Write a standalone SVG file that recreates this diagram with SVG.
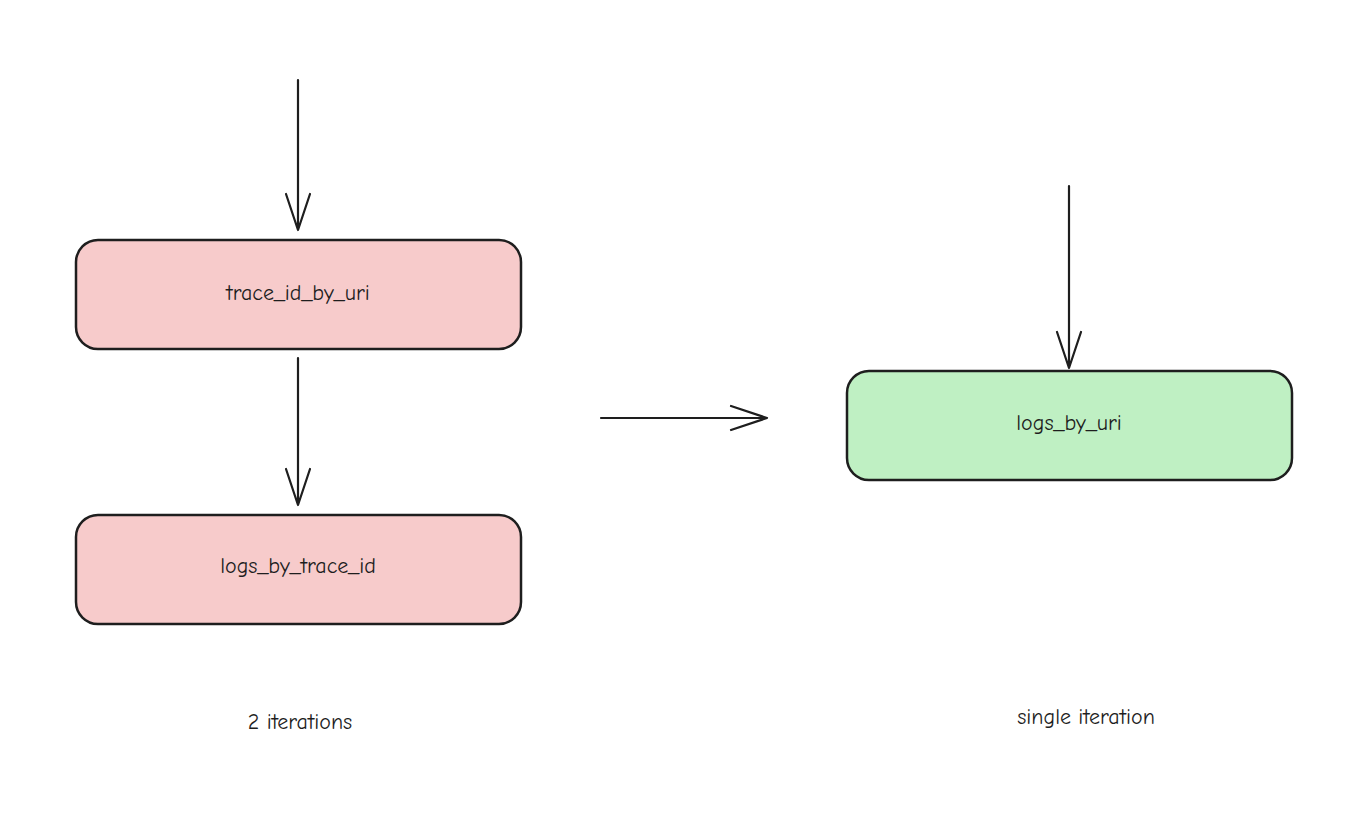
<svg xmlns="http://www.w3.org/2000/svg" width="1364" height="818" viewBox="0 0 1364 818">
<style>
.box{stroke:#1e1e1e;stroke-width:2.5}
.pink{fill:#f7cbcb}
.green{fill:#bff0c3}
text{font-family:"Comic Neue","Liberation Sans",sans-serif;font-size:22px;fill:#1e1e1e;text-anchor:middle;dominant-baseline:middle}
.c{stroke:#1e1e1e;stroke-width:2.2;fill:none;stroke-linecap:round;stroke-linejoin:round}
</style>
<rect width="1364" height="818" fill="#ffffff"/>
<g id="connectors">
<path class="c" d="M298 80 L298 230 M286 194 L298 230 L310 194"/>
<path class="c" d="M298 358 L298 505 M286 469 L298 505 L310 469"/>
<path class="c" d="M601 418 L767 418 M731 406 L767 418 L731 430"/>
<path class="c" d="M1069 186 L1069 368 M1057 332 L1069 368 L1081 332"/>
</g>
<g id="trace_id_by_uri"><rect class="box pink" x="76" y="240" width="445" height="109" rx="22"/><text x="298" y="295">trace_id_by_uri</text></g>
<g id="logs_by_trace_id"><rect class="box pink" x="76" y="515" width="445" height="109" rx="22"/><text x="298" y="568">logs_by_trace_id</text></g>
<g id="logs_by_uri"><rect class="box green" x="847" y="371" width="445" height="109" rx="22"/><text x="1069" y="425">logs_by_uri</text></g>
<g id="label_2"><text x="300" y="724">2 iterations</text></g>
<g id="label_single"><text x="1086" y="719">single iteration</text></g>
</svg>
